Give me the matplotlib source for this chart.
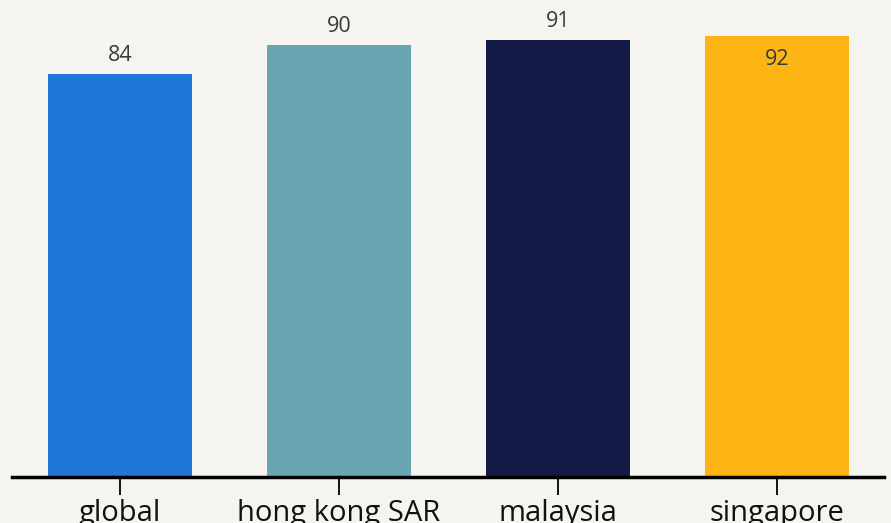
import matplotlib
matplotlib.use("Agg")
import matplotlib.pyplot as plt

categories = ["global", "hong kong SAR", "malaysia", "singapore"]
values = [84, 90, 91, 92]
colors = ["#2176d9", "#6aa5b2", "#121a45", "#fdb515"]

bg = "#f5f4f0"
fig = plt.figure(figsize=(8.91, 5.23), dpi=100, facecolor=bg)
ax = fig.add_axes([12/891, 46/523, (884-12)/891, 477/523])
ax.set_facecolor(bg)

x = list(range(len(categories)))
ax.bar(x, values, width=0.66, color=colors, edgecolor="none", zorder=2)
ax.set_xlim(-0.493, 3.489)
ax.set_ylim(0, 99.4)

for xi, v in zip(x, values):
    if v >= 92:
        ax.text(xi, v - 4.9, str(v), ha="center", va="center", fontsize=15.5,
                color="#3a3a3a", family="Open Sans")
    else:
        ax.text(xi, v + 3.9, str(v), ha="center", va="center", fontsize=15.5,
                color="#3a3a3a", family="Open Sans")

for s in ["top", "right", "left"]:
    ax.spines[s].set_visible(False)
ax.spines["bottom"].set_linewidth(2.5)
ax.spines["bottom"].set_color("black")
ax.set_yticks([])
ax.set_xticks(x)
ax.set_xticklabels(categories, fontsize=21, family="Open Sans", color="#111111")
ax.tick_params(axis="x", length=13, width=1.3, color="black", pad=2.5)

fig.savefig("out.png", dpi=100, facecolor=bg)
